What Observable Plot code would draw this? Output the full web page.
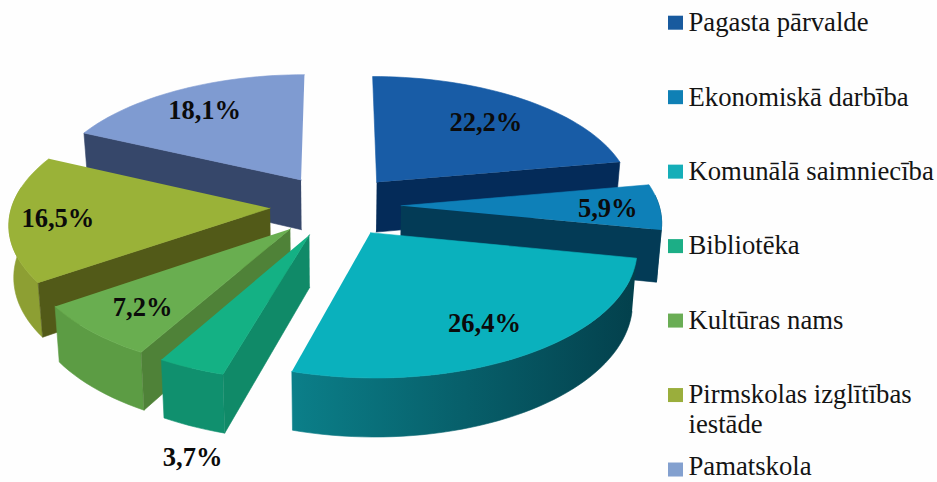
<!DOCTYPE html>
<html><head><meta charset="utf-8">
<script src="https://cdn.jsdelivr.net/npm/d3@7"></script>
<script src="https://cdn.jsdelivr.net/npm/@observablehq/plot@0.6"></script>
<style>html,body{margin:0;padding:0;background:#fff}svg{display:block}</style>
</head><body><div id="chart"></div>
<script>
const categories = ["Pagasta pārvalde","Ekonomiskā darbība","Komunālā saimniecība","Bibliotēka","Kultūras nams","Pirmskolas izglītības\niestāde","Pamatskola"];
const shares = [22.2,5.9,26.4,3.7,7.2,16.5,18.1];
const topColors = ["#185ca6","#0e80b8","#0ab1bd","#14b184","#69ae50","#9ab238","#7f9bd1"];
const sideColors = ["#042b59","#033b56","#033d4e","#108a68","#4f8238","#525a18","#36476a"];
const rimColors = ["#042b59","#03465f","url(#komRim)","#10906e","#5c9c44","#8d9f33","#36476a"];
const legendColors = ["#185a9e","#0f80b5","#15aeb8","#1cae86","#6aad55","#9aae3c","#83a0cf"];
const labelReach = [0.73,0.8,0.75,1.47,0.76,0.815,0.78];
const labelSwing = [0,0,0,-9,0,0,0];
const legendNudge = [0,0,0,0,0,0,-3];
const paintOrder = [6,5,4,3,0,1,2];

const W = 937, H = 482, Cx = 335, Cy = 205, Rx = 258, Ry = 122.4, k = 0.112, blast = 0.254, D = 51;
const rad = d => d * Math.PI / 180;
function project(m, a, r, h = 0) {
  const u = blast * Math.sin(rad(m)) + r * Math.sin(rad(a));
  const v = blast * Math.cos(rad(m)) + r * Math.cos(rad(a));
  const s = 1 / (1 + k * v);
  return {x: Cx + Rx * u * s * (1 - 0.015 * h), y: Cy - Ry * v * s + D * s * h};
}
function sweep(a0, a1) {
  const n = Math.max(2, Math.ceil((a1 - a0) / 2));
  return d3.range(n + 1).map(i => a0 + (a1 - a0) * i / n);
}
let acc = 0;
const slices = shares.map((v, i) => {
  const start = acc * 3.6; acc += v; const end = acc * 3.6;
  return {i, start, end, mid: (start + end) / 2};
});
const marks = [];
const poly = (pts, fill) => marks.push(Plot.line(pts, {x: "x", y: "y", fill, stroke: fill, strokeWidth: 0.6}));

const defs = d3.create("svg:defs");
const g = defs.append("linearGradient").attr("id", "komRim").attr("gradientUnits", "userSpaceOnUse")
  .attr("x1", project(slices[2].mid, slices[2].end, 1).x).attr("x2", project(slices[2].mid, slices[2].start, 1).x).attr("y1", 0).attr("y2", 0);
g.append("stop").attr("offset", 0).attr("stop-color", "#0b7f89");
g.append("stop").attr("offset", 0.5).attr("stop-color", "#075f6a");
g.append("stop").attr("offset", 1).attr("stop-color", "#03404c");
marks.push(() => defs.node());

for (const idx of paintOrder) {
  const {i, start, end, mid} = slices[idx];
  const a0 = Math.max(start, 85), a1 = Math.min(end, 280);
  if (a1 > a0) {
    const as = sweep(a0, a1);
    poly([...as.map(a => project(mid, a, 1, 0)), ...as.slice().reverse().map(a => project(mid, a, 1, 1))], rimColors[i]);
  }
  const wall = a => [project(mid, a, 0, 0), project(mid, a, 1, 0), project(mid, a, 1, 1), project(mid, a, 0, 1)];
  if (start > 180) poly(wall(start), sideColors[i]);
  if (end < 180) poly(wall(end), sideColors[i]);
  poly([project(mid, start, 0), ...sweep(start, end).map(a => project(mid, a, 1))], topColors[i]);
}

const labels = slices.map(s => {
  const p = project(s.mid, s.mid + labelSwing[s.i], labelReach[s.i]);
  return {...p, text: shares[s.i].toFixed(1).replace(".", ",") + "%"};
});
marks.push(Plot.text(labels, {x: "x", y: "y", dy: 2, text: "text", fontFamily: "Liberation Serif", fontWeight: "bold", fontSize: 26.5, fill: "#0b0b0b", lineAnchor: "middle"}));

const rows = categories.map((c, i) => ({c, i, y: 22.7 + 74.47 * i, color: legendColors[i]}));
marks.push(Plot.rect(rows, {x1: () => 668, x2: () => 683, y1: d => d.y - 7, y2: d => d.y + 7, fill: "color", inset: 0}));
marks.push(Plot.text(rows, {x: () => 688, y: d => d.y - 13 + legendNudge[d.i], text: "c", textAnchor: "start", lineAnchor: "top", lineHeight: 1.1, fontFamily: "Liberation Serif", fontSize: 26.7, letterSpacing: 0.2, fill: "#141414"}));

const chart = Plot.plot({
  width: W, height: H, margin: 0,
  x: {domain: [0, W], range: [0, W], axis: null},
  y: {domain: [0, H], range: [0, H], axis: null},
  color: {type: "identity"},
  style: {background: "#fefefe"},
  marks
});
document.getElementById("chart").append(chart);
</script></body></html>
